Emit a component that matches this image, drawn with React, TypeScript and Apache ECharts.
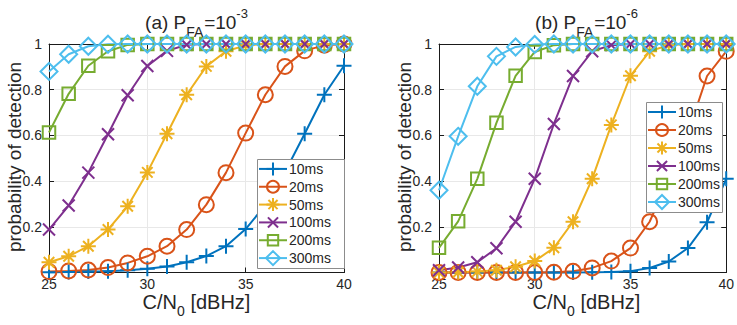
import React, { useEffect, useRef } from "react";
import * as echarts from "echarts";

const cn0 = [25, 26, 27, 28, 29, 30, 31, 32, 33, 34, 35, 36, 37, 38, 39, 40];
const names = ["10ms", "20ms", "50ms", "100ms", "200ms", "300ms"];

// (a) PFA = 1e-3
const a10 = [0.001, 0.002, 0.004, 0.006, 0.01, 0.016, 0.026, 0.045, 0.072, 0.115, 0.19, 0.295, 0.44, 0.607, 0.778, 0.905];
const a20 = [0.004, 0.007, 0.011, 0.022, 0.042, 0.071, 0.115, 0.188, 0.297, 0.437, 0.61, 0.778, 0.902, 0.97, 0.995, 1];
const a50 = [0.045, 0.071, 0.115, 0.188, 0.29, 0.438, 0.607, 0.778, 0.902, 0.968, 0.994, 1, 1, 1, 1, 1];
const a100 = [0.188, 0.293, 0.437, 0.605, 0.776, 0.904, 0.97, 0.997, 1, 1, 1, 1, 1, 1, 1, 1];
const a200 = [0.613, 0.782, 0.905, 0.968, 0.996, 1, 1, 1, 1, 1, 1, 1, 1, 1, 1, 1];
const a300 = [0.88, 0.955, 0.99, 0.999, 1, 1, 1, 1, 1, 1, 1, 1, 1, 1, 1, 1];

// (b) PFA = 1e-6
const b10 = [0, 0, 0, 0, 0, 0, 0, 0.0005, 0.001, 0.002, 0.006, 0.02, 0.048, 0.107, 0.22, 0.41];
const b20 = [0, 0, 0, 0, 0, 0, 0.001, 0.005, 0.02, 0.05, 0.107, 0.222, 0.41, 0.61, 0.86, 0.968];
const b50 = [0, 0.001, 0.004, 0.01, 0.025, 0.05, 0.108, 0.222, 0.41, 0.646, 0.861, 0.968, 0.995, 1, 1, 1];
const b100 = [0.01, 0.022, 0.045, 0.106, 0.222, 0.41, 0.65, 0.86, 0.968, 0.995, 1, 1, 1, 1, 1, 1];
const b200 = [0.108, 0.224, 0.41, 0.655, 0.861, 0.965, 0.995, 1, 1, 1, 1, 1, 1, 1, 1, 1];
const b300 = [0.36, 0.596, 0.815, 0.946, 0.987, 0.998, 1, 1, 1, 1, 1, 1, 1, 1, 1, 1];

const xTicks = [25, 30, 35, 40];
const yTicks = [0.2, 0.4, 0.6, 0.8, 1];

const COLORS = ["#0072BD", "#D95319", "#EDB120", "#7E2F8E", "#77AC30", "#4DBEEE"];
const SYMBOLS = [
  "path://M0,-10L0,10M-10,0L10,0",
  "path://M-10,0A10,10,0,1,1,10,0A10,10,0,1,1,-10,0Z",
  "path://M0,-10L0,10M-10,0L10,0M-7,-7L7,7M-7,7L7,-7",
  "path://M-10,-10L10,10M-10,10L10,-10",
  "path://M-10,-10L10,-10L10,10L-10,10Z",
  "path://M0,-10L10,0L0,10L-10,0Z",
];
const SIZES = [15, 15, 15, 12, 12.5, 17];

const FONT = "'Liberation Sans', Arial, Helvetica, sans-serif";
const TXT = "#262626";
const AX = "#1a1a1a";

// each panel is its own chart; positions are in the panel's own box
const PANEL_W = [390, 347];
const PANEL_X = [0, 390];
const GRID = { left: 49, top: 44, width: 295, height: 228.5 };
// legend boxes (panel-local): left, top, width, height
const LEGEND_BOX = [
  { left: 257, top: 159, width: 87, height: 109 },
  { left: 256, top: 102, width: 76, height: 110 },
];

function mkSeries(data: number[][]) {
  return data.map((vals, k) => ({
    type: "line",
    name: names[k],
    data: cn0.map((x, i) => [x, vals[i]]),
    symbol: SYMBOLS[k],
    symbolSize: SIZES[k],
    clip: false,
    lineStyle: { color: COLORS[k], width: 2 },
    itemStyle: { color: "rgba(0,0,0,0)", borderColor: COLORS[k], borderWidth: 2 },
    emphasis: { disabled: true },
  }));
}

function xAxes() {
  const base = {
    type: "value",
    min: 25,
    max: 40,
    interval: 5,
    axisLine: { show: true, onZero: false, lineStyle: { color: AX, width: 1 } },
    axisTick: { show: true, inside: true, length: 5, lineStyle: { color: AX } },
  };
  return [
    {
      ...base,
      position: "bottom",
      axisLabel: {
        show: true,
        margin: 4,
        fontSize: 14,
        color: TXT,
        fontFamily: FONT,
        formatter: (v: number) => (xTicks.includes(v) ? String(v) : ""),
      },
      splitLine: { show: true, lineStyle: { color: "#e8e8e8", width: 1 } },
    },
    { ...base, position: "top", axisLabel: { show: false }, splitLine: { show: false } },
  ];
}

function yAxes() {
  const base = {
    type: "value",
    min: 0,
    max: 1,
    interval: 0.2,
    axisLine: { show: true, onZero: false, lineStyle: { color: AX, width: 1 } },
    axisTick: { show: true, inside: true, length: 5, lineStyle: { color: AX } },
  };
  return [
    {
      ...base,
      position: "left",
      axisLabel: {
        show: true,
        margin: 7,
        fontSize: 14,
        color: TXT,
        fontFamily: FONT,
        formatter: (v: number) => {
          const r = Math.round(v * 10) / 10;
          return yTicks.includes(r) ? String(r) : "";
        },
      },
      splitLine: { show: true, lineStyle: { color: "#e8e8e8", width: 1 } },
    },
    { ...base, position: "right", axisLabel: { show: false }, splitLine: { show: false } },
  ];
}

// legend drawn as graphic elements so that its box sits exactly where the reference has it
function legendMarker(k: number, cx: number, cy: number) {
  const c = COLORS[k];
  const st = { stroke: c, lineWidth: 2, fill: "none" };
  const ln = (x1: number, y1: number, x2: number, y2: number) => ({
    type: "line",
    z: 101,
    shape: { x1: cx + x1, y1: cy + y1, x2: cx + x2, y2: cy + y2 },
    style: st,
  });
  const s = 6.5;
  switch (k) {
    case 0:
      return [ln(-s, 0, s, 0), ln(0, -s, 0, s)];
    case 1:
      return [{ type: "circle", z: 101, shape: { cx, cy, r: s - 0.5 }, style: st }];
    case 2: {
      const d = s * 0.7;
      return [ln(-s, 0, s, 0), ln(0, -s, 0, s), ln(-d, -d, d, d), ln(-d, d, d, -d)];
    }
    case 3: {
      const d = s * 0.78;
      return [ln(-d, -d, d, d), ln(-d, d, d, -d)];
    }
    case 4: {
      const d = s * 0.8;
      return [{ type: "rect", z: 101, shape: { x: cx - d, y: cy - d, width: 2 * d, height: 2 * d }, style: st }];
    }
    default:
      return [
        {
          type: "polygon",
          z: 101,
          shape: { points: [[cx, cy - s - 0.5], [cx + s + 0.5, cy], [cx, cy + s + 0.5], [cx - s - 0.5, cy]] },
          style: st,
        },
      ];
  }
}

function legendGraphics(pi: number) {
  const b = LEGEND_BOX[pi];
  const els: any[] = [
    {
      type: "rect",
      z: 100,
      shape: { x: b.left + 0.5, y: b.top + 0.5, width: b.width, height: b.height },
      style: { fill: "#ffffff", stroke: "#8c8c8c", lineWidth: 1 },
    },
  ];
  const rowH = (b.height - 2) / names.length;
  names.forEach((nm, k) => {
    const cy = b.top + 1 + rowH * (k + 0.5);
    const x0 = b.left + 2;
    const x1 = b.left + 30;
    els.push({
      type: "line",
      z: 101,
      shape: { x1: x0, y1: cy, x2: x1, y2: cy },
      style: { stroke: COLORS[k], lineWidth: 2 },
    });
    els.push(...legendMarker(k, (x0 + x1) / 2, cy));
    els.push({
      type: "text",
      z: 101,
      x: x1 + 2,
      y: cy,
      style: { text: nm, align: "left", verticalAlign: "middle", fontSize: 14, fontFamily: FONT, fill: TXT },
    });
  });
  return els;
}

// Arial / Liberation Sans advance widths (em)
const W: Record<string, number> = {
  "(": 0.333, ")": 0.333, a: 0.556, b: 0.556, " ": 0.278, P: 0.667, F: 0.611, A: 0.667,
  "=": 0.584, "1": 0.556, "0": 0.556, "-": 0.333, "3": 0.556, "6": 0.556, C: 0.722,
  "/": 0.278, N: 0.722, "[": 0.278, d: 0.556, B: 0.667, H: 0.722, z: 0.5, "]": 0.278,
};
const tw = (s: string, fs: number) => s.split("").reduce((acc, ch) => acc + (W[ch] ?? 0.556) * fs, 0);

function pieceRow(cx: number, parts: { t: string; fs: number; dy: number }[], y: number) {
  const total = parts.reduce((a, p) => a + tw(p.t, p.fs), 0);
  let x = cx - total / 2;
  return parts.map((p) => {
    const el = {
      type: "text",
      x,
      y: y + p.dy,
      style: {
        text: p.t,
        align: "left",
        verticalAlign: "middle",
        fontSize: p.fs,
        fontFamily: FONT,
        fill: TXT,
      },
    };
    x += tw(p.t, p.fs);
    return el;
  });
}

function texts(tag: string, exp: string) {
  const cx = GRID.left + GRID.width / 2;
  return [
    ...pieceRow(
      cx,
      [
        { t: `(${tag}) P`, fs: 19, dy: 0 },
        { t: "FA", fs: 14, dy: 9.5 },
        { t: "=10", fs: 19, dy: 0 },
        { t: exp, fs: 13, dy: -9 },
      ],
      22
    ),
    ...pieceRow(
      cx,
      [
        { t: "C/N", fs: 20, dy: 0 },
        { t: "0", fs: 14, dy: 9 },
        { t: " [dBHz]", fs: 20, dy: 0 },
      ],
      301.5
    ),
    {
      type: "text",
      x: GRID.left - 34.5,
      y: 157,
      rotation: Math.PI / 2,
      style: {
        text: "probability of detection",
        align: "center",
        verticalAlign: "middle",
        fontSize: 19,
        fontFamily: FONT,
        fill: TXT,
      },
    },
  ];
}

const PANELS = [
  { tag: "a", exp: "-3", data: [a10, a20, a50, a100, a200, a300] },
  { tag: "b", exp: "-6", data: [b10, b20, b50, b100, b200, b300] },
];

function Panel({ pi }: { pi: number }) {
  const ref = useRef<HTMLDivElement>(null);
  useEffect(() => {
    if (!ref.current) return;
    const chart = echarts.init(ref.current, null, { renderer: "svg" });
    const p = PANELS[pi];
    chart.setOption({
      animation: false,
      backgroundColor: "#ffffff",
      textStyle: { fontFamily: FONT },
      grid: { ...GRID, containLabel: false },
      xAxis: xAxes(),
      yAxis: yAxes(),
      series: mkSeries(p.data),
      graphic: [...texts(p.tag, p.exp), ...legendGraphics(pi)],
    });
    return () => chart.dispose();
  }, [pi]);
  return (
    <div
      ref={ref}
      style={{
        position: "absolute",
        left: PANEL_X[pi],
        top: 0,
        width: PANEL_W[pi],
        height: 325,
        background: "#fff",
      }}
    />
  );
}

export default function App() {
  return (
    <div style={{ position: "fixed", left: 0, top: 0, width: 737, height: 325, background: "#fff", overflow: "hidden" }}>
      <Panel pi={0} />
      <Panel pi={1} />
    </div>
  );
}
